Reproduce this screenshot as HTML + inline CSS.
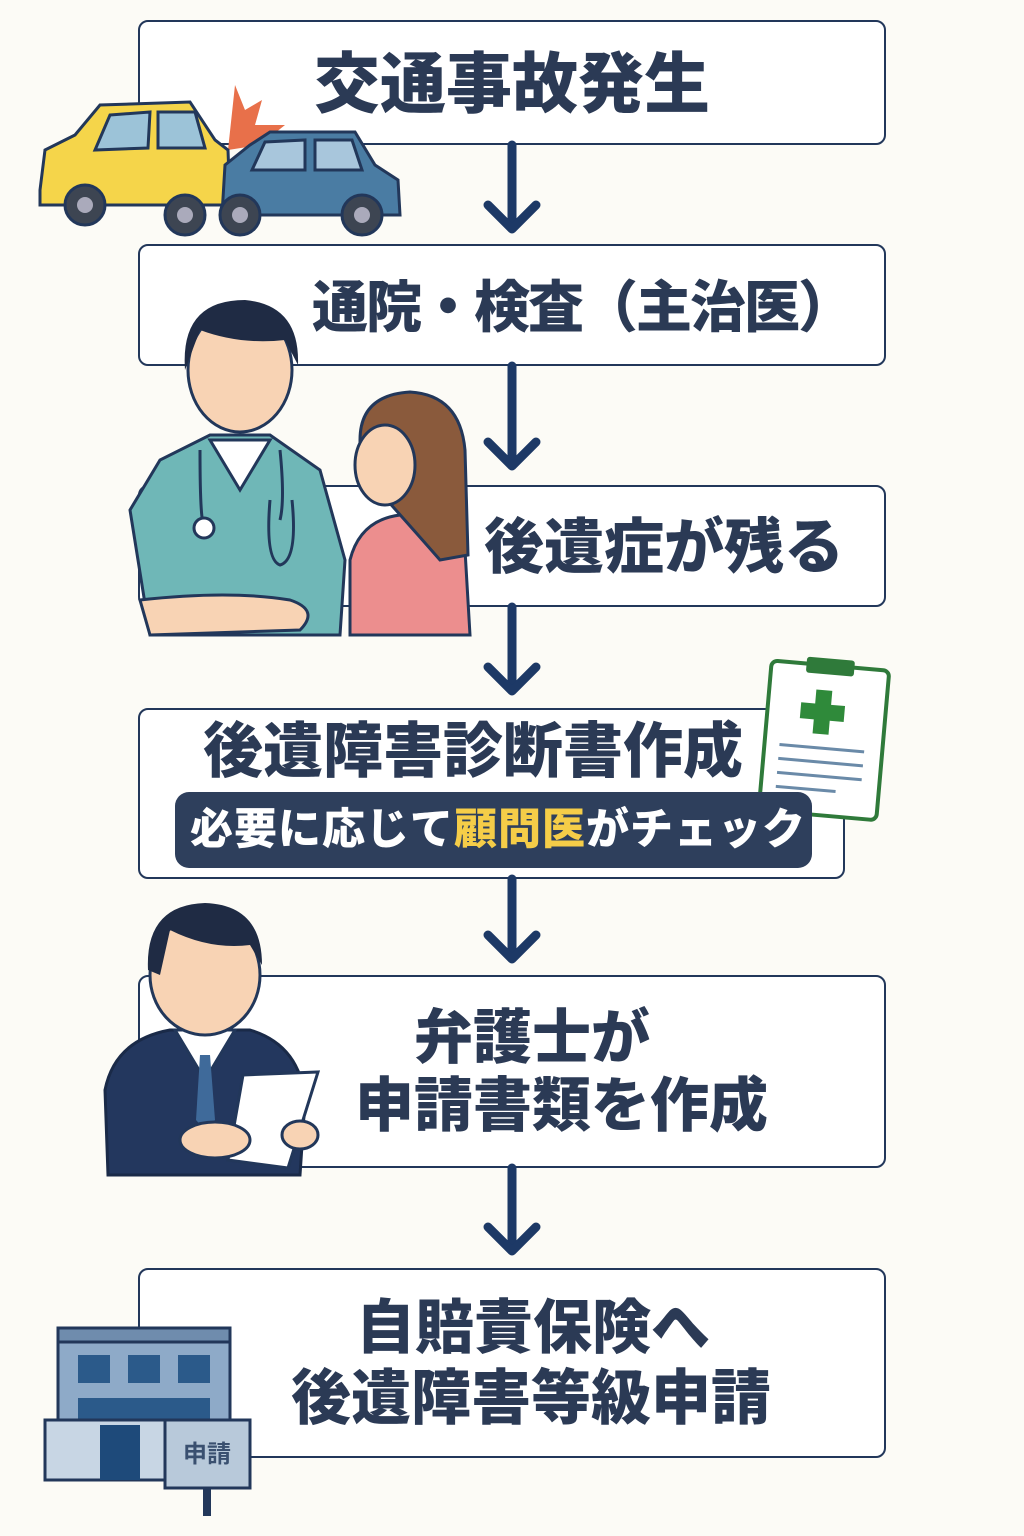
<!DOCTYPE html>
<html><head><meta charset="utf-8">
<style>
html,body{margin:0;padding:0;background:#fcfbf6;}
body{width:1024px;height:1536px;position:relative;overflow:hidden;font-family:"Liberation Sans","Noto Sans CJK JP",sans-serif;}
.box{position:absolute;border:2.5px solid #22375a;border-radius:10px;background:#fff;box-sizing:border-box;}
.t{position:absolute;color:#2b3a55;font-weight:900;white-space:nowrap;line-height:1;}
svg{position:absolute;left:0;top:0;}
</style></head><body>
<div class="box" style="left:138px;top:20px;width:748px;height:125px"></div>
<div class="box" style="left:138px;top:244px;width:748px;height:122px"></div>
<div class="box" style="left:138px;top:485px;width:748px;height:122px"></div>
<div class="box" style="left:138px;top:708px;width:707px;height:171px"></div>
<div class="box" style="left:138px;top:975px;width:748px;height:193px"></div>
<div class="box" style="left:138px;top:1268px;width:748px;height:190px"></div>

<svg width="1024" height="1536" viewBox="0 0 1024 1536">
<g stroke="#1d3966" stroke-width="9" fill="none" stroke-linecap="round" stroke-linejoin="round">
<line x1="512" y1="145" x2="512" y2="228"/><polyline points="488,205 512,229 536,205"/>
<line x1="512" y1="366" x2="512" y2="465"/><polyline points="488,442 512,466 536,442"/>
<line x1="512" y1="607" x2="512" y2="690"/><polyline points="488,667 512,691 536,667"/>
<line x1="512" y1="879" x2="512" y2="958"/><polyline points="488,935 512,959 536,935"/>
<line x1="512" y1="1168" x2="512" y2="1250"/><polyline points="488,1227 512,1251 536,1227"/>
</g>
<polygon points="235,85 245,110 262,100 255,125 285,125 260,145 228,150" fill="#e8704a"/>
<path d="M40,190 L45,150 L75,135 L100,105 L190,102 L215,140 L228,150 L230,205 L40,205 Z" fill="#f5d54a" stroke="#22375a" stroke-width="3"/>
<path d="M110,115 L150,112 L148,148 L95,150 Z M158,112 L195,112 L205,148 L158,148 Z" fill="#9cc3d8" stroke="#22375a" stroke-width="3"/>
<circle cx="85" cy="205" r="20" fill="#3d4552" stroke="#22375a" stroke-width="3"/><circle cx="85" cy="205" r="8" fill="#aab"/>
<circle cx="185" cy="215" r="20" fill="#3d4552" stroke="#22375a" stroke-width="3"/><circle cx="185" cy="215" r="8" fill="#aab"/>
<path d="M222,215 L225,165 L250,145 L270,132 L355,132 L375,165 L398,180 L400,215 Z" fill="#4a7ca3" stroke="#22375a" stroke-width="3"/>
<path d="M265,142 L305,140 L305,170 L252,170 Z M315,140 L352,140 L362,170 L315,170 Z" fill="#a8c6dc" stroke="#22375a" stroke-width="3"/>
<circle cx="240" cy="215" r="20" fill="#3d4552" stroke="#22375a" stroke-width="3"/><circle cx="240" cy="215" r="8" fill="#aab"/>
<circle cx="362" cy="215" r="20" fill="#3d4552" stroke="#22375a" stroke-width="3"/><circle cx="362" cy="215" r="8" fill="#aab"/>
<path d="M150,635 L130,510 L160,460 L210,435 L270,435 L320,470 L345,560 L340,635 Z" fill="#6fb7b7" stroke="#22375a" stroke-width="3"/>
<path d="M210,440 L240,490 L270,440 Z" fill="#fff" stroke="#22375a" stroke-width="3"/>
<ellipse cx="240" cy="370" rx="52" ry="62" fill="#f8d3b4" stroke="#22375a" stroke-width="3"/>
<path d="M185,370 Q180,300 245,300 Q300,305 298,365 L285,340 Q240,345 200,330 Z" fill="#1f2b44"/>
<path d="M200,450 Q200,530 205,525 M280,450 Q285,500 280,520" stroke="#22375a" stroke-width="3" fill="none"/>
<circle cx="204" cy="528" r="10" fill="#fff" stroke="#22375a" stroke-width="3"/>
<path d="M270,500 Q265,560 280,565 Q298,560 292,500" stroke="#22375a" stroke-width="3" fill="none"/>
<path d="M350,635 L350,560 Q360,520 400,515 Q445,515 465,550 L470,635 Z" fill="#ec8e8e" stroke="#22375a" stroke-width="3"/>
<path d="M360,440 Q360,395 410,392 Q460,395 465,450 L468,555 L440,560 Q405,520 360,470 Z" fill="#8a5a3c" stroke="#22375a" stroke-width="3"/>
<ellipse cx="385" cy="465" rx="30" ry="40" fill="#f8d3b4" stroke="#22375a" stroke-width="3"/>
<path d="M140,600 Q230,590 290,600 Q320,610 300,630 L150,635 Z" fill="#f8d3b4" stroke="#22375a" stroke-width="3"/>
<g transform="rotate(5 820 740)">
<rect x="765" y="665" width="118" height="150" rx="6" fill="#fff" stroke="#2f7a3a" stroke-width="4"/>
<rect x="800" y="658" width="48" height="16" rx="3" fill="#2f7a3a"/>
<path d="M812,690 h16 v14 h14 v16 h-14 v14 h-16 v-14 h-14 v-16 h14 z" fill="#2f8a3a"/>
<g stroke="#6a8aa8" stroke-width="3"><line x1="780" y1="748" x2="865" y2="748"/><line x1="780" y1="762" x2="865" y2="762"/><line x1="780" y1="776" x2="865" y2="776"/><line x1="780" y1="790" x2="840" y2="790"/></g>
</g>
<path d="M108,1175 L105,1090 Q115,1040 170,1030 L250,1030 Q300,1045 305,1100 L300,1175 Z" fill="#23375e" stroke="#1a2a48" stroke-width="3"/>
<path d="M175,1030 L205,1080 L235,1030 Z" fill="#fff" stroke="#22375a" stroke-width="3"/>
<path d="M200,1055 L210,1055 L215,1120 L205,1130 L196,1120 Z" fill="#3f6a9a"/>
<ellipse cx="205" cy="975" rx="55" ry="60" fill="#f8d3b4" stroke="#22375a" stroke-width="3"/>
<path d="M148,970 Q145,905 205,903 Q262,905 262,965 L250,945 Q210,950 170,930 L160,975 Z" fill="#1f2b44"/>
<polygon points="243,1075 318,1072 288,1168 228,1160" fill="#fff" stroke="#22375a" stroke-width="3"/>
<ellipse cx="215" cy="1140" rx="35" ry="18" fill="#f8d3b4" stroke="#22375a" stroke-width="3"/>
<ellipse cx="300" cy="1135" rx="18" ry="14" fill="#f8d3b4" stroke="#22375a" stroke-width="3"/>
<rect x="58" y="1328" width="172" height="150" fill="#8eaac8" stroke="#22375a" stroke-width="3"/>
<rect x="58" y="1328" width="172" height="14" fill="#6f8cad" stroke="#22375a" stroke-width="3"/>
<rect x="78" y="1355" width="32" height="28" fill="#2b5a8a"/><rect x="128" y="1355" width="32" height="28" fill="#2b5a8a"/><rect x="178" y="1355" width="32" height="28" fill="#2b5a8a"/>
<rect x="78" y="1398" width="132" height="22" fill="#2b5a8a"/>
<rect x="45" y="1420" width="120" height="60" fill="#c8d6e4" stroke="#22375a" stroke-width="3"/>
<rect x="100" y="1425" width="40" height="55" fill="#1e4a7a"/>
<rect x="165" y="1420" width="85" height="68" fill="#b8c9da" stroke="#22375a" stroke-width="3"/>
<rect x="203" y="1488" width="8" height="28" fill="#22375a"/>
<text x="207" y="1462" font-size="24" font-weight="bold" fill="#3a5070" text-anchor="middle" font-family="Liberation Sans, Noto Sans CJK JP, sans-serif">申請</text>
</svg>

<div class="t" style="left:314px;top:51px;font-size:66px">交通事故発生</div>
<div class="t" style="left:312px;top:280px;font-size:56px;letter-spacing:-2px">通院・検査（主治医）</div>
<div class="t" style="left:484px;top:518px;font-size:60px">後遺症が残る</div>
<div class="t" style="left:203px;top:722px;font-size:60px">後遺障害診断書作成</div>
<div style="position:absolute;left:175px;top:792px;width:637px;height:76px;background:#2e3f5c;border-radius:14px"></div>
<div class="t" style="left:190px;top:809px;font-size:43px;letter-spacing:1px;color:#fff">必要に応じて<span style="color:#f5cd48">顧問医</span>がチェック</div>
<div class="t" style="left:414px;top:1009px;font-size:59px">弁護士が</div>
<div class="t" style="left:355px;top:1077px;font-size:59px">申請書類を作成</div>
<div class="t" style="left:356px;top:1299px;font-size:59px">自賠責保険へ</div>
<div class="t" style="left:291px;top:1369px;font-size:60px">後遺障害等級申請</div>
</body></html>
